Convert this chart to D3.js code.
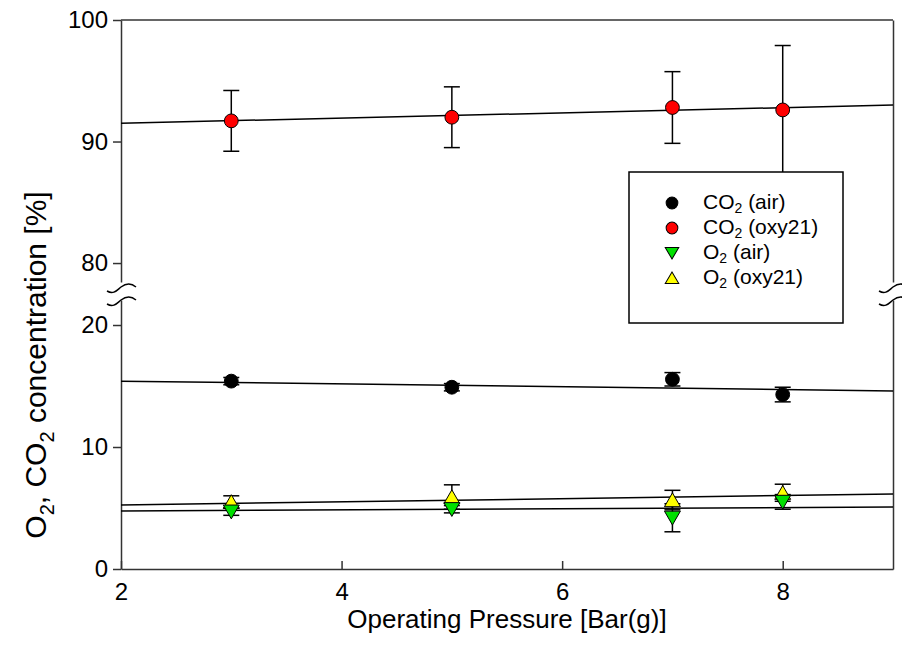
<!DOCTYPE html>
<html>
<head>
<meta charset="utf-8">
<script src="https://cdn.jsdelivr.net/npm/d3@7"></script>
<style>
  body { margin: 0; background: #fff; }
  text { font-family: Arial, "Liberation Sans", sans-serif; fill: #000; }
</style>
</head>
<body>
<div id="container"></div>
<script>
/* DATA */
const pressure = [3, 5, 7, 8];
const co2Air = [15.4, 14.9, 15.55, 14.3];
const co2AirErr = [0.3, 0.3, 0.55, 0.6];
const co2Oxy = [91.7, 92.0, 92.8, 92.6];
const co2OxyErr = [2.5, 2.5, 2.95, 5.3];
const o2Air = [4.7, 4.9, 4.2, 5.5];
const o2AirErr = [0.3, 0.3, 1.15, 0.6];
const o2Oxy = [5.5, 5.9, 5.65, 6.25];
const o2OxyErr = [0.5, 1.0, 0.8, 0.7];

// regression lines, value at pressure 2 and 9
const fitX = [2, 9];
const fitCo2Air = [15.4, 14.6];
const fitCo2Oxy = [91.5, 93.0];
const fitO2Air = [4.75, 5.08];
const fitO2Oxy = [5.25, 6.15];

const xTicks = [2, 4, 6, 8];
const yTicksLow = [0, 10, 20];
const yTicksHigh = [80, 90, 100];

/* CONSTANTS */
const width = 902, height = 663;
const left = 121, right = 893;

const x = d3.scaleLinear().domain([2, 9]).range([left, right]);
const yLow = d3.scaleLinear().domain([0, 22.05]).range([569, 300]);
const yHigh = d3.scaleLinear().domain([78.44, 100]).range([282, 20]);
const y = v => v > 50 ? yHigh(v) : yLow(v);

const svg = d3.select("#container").append("svg")
  .attr("width", width).attr("height", height);

/* FRAME & AXES */
svg.append("line").attr("x1", left).attr("x2", right)
  .attr("y1", 20).attr("y2", 20).attr("stroke", "#333").attr("stroke-width", 1.5);

const styleAxis = g => {
  g.select(".domain").attr("stroke", "#333").attr("stroke-width", 1.5);
  g.selectAll(".tick line").attr("stroke", "#333").attr("stroke-width", 1.5);
  g.selectAll("text").style("font-size", "24px").attr("fill", "#000");
};

svg.append("g").attr("transform", `translate(${left},0)`)
  .call(d3.axisLeft(yLow).tickValues(yTicksLow).tickSizeInner(8).tickSizeOuter(0).tickPadding(5))
  .call(styleAxis);
svg.append("g").attr("transform", `translate(${left},0)`)
  .call(d3.axisLeft(yHigh).tickValues(yTicksHigh).tickSizeInner(8).tickSizeOuter(0).tickPadding(5))
  .call(styleAxis);
svg.append("g").attr("transform", `translate(${right},0)`)
  .call(d3.axisRight(yLow).tickValues([]).tickSizeOuter(0))
  .call(styleAxis);
svg.append("g").attr("transform", `translate(${right},0)`)
  .call(d3.axisRight(yHigh).tickValues([]).tickSizeOuter(0))
  .call(styleAxis);
svg.append("g").attr("transform", `translate(0,569)`)
  .call(d3.axisBottom(x).tickValues(xTicks).tickFormat(d3.format("d"))
    .tickSizeInner(-8).tickSizeOuter(0).tickPadding(14))
  .call(styleAxis);

// break marks
const breakY = [288, 301];
[left, right].forEach(bx => {
  breakY.forEach(by => {
    svg.append("path")
      .attr("d", `M${bx - 14},${by + 3} C${bx - 7},${by + 7} ${bx - 4},${by + 2} ${bx},${by - 1} C${bx + 4},${by - 4} ${bx + 9},${by - 6} ${bx + 15},${by - 1}`)
      .attr("fill", "none").attr("stroke", "#000").attr("stroke-width", 1.5);
  });
});

/* FIT LINES */
const line = d3.line().x(d => x(d[0])).y(d => y(d[1]));
[fitCo2Oxy, fitCo2Air, fitO2Oxy, fitO2Air].forEach(f => {
  svg.append("path").attr("d", line(fitX.map((px, i) => [px, f[i]])))
    .attr("fill", "none").attr("stroke", "#000").attr("stroke-width", 1.5);
});

/* ERROR BARS */
const drawErr = (vals, errs) => {
  const g = svg.append("g").attr("stroke", "#000").attr("stroke-width", 1.5);
  pressure.forEach((p, i) => {
    const cx = x(p), y1 = y(vals[i] + errs[i]), y2 = y(vals[i] - errs[i]);
    g.append("line").attr("x1", cx).attr("x2", cx).attr("y1", y1).attr("y2", y2);
    g.append("line").attr("x1", cx - 8).attr("x2", cx + 8).attr("y1", y1).attr("y2", y1);
    g.append("line").attr("x1", cx - 8).attr("x2", cx + 8).attr("y1", y2).attr("y2", y2);
  });
};
drawErr(co2Oxy, co2OxyErr);
drawErr(co2Air, co2AirErr);
drawErr(o2Oxy, o2OxyErr);
drawErr(o2Air, o2AirErr);

/* MARKERS */
const sym = {
  circle: d3.symbol().type(d3.symbolCircle).size(150),
  down: d3.symbol().type(d3.symbolTriangle).size(110),
  up: d3.symbol().type(d3.symbolTriangle).size(110)
};
const series = [
  { label: "CO", sub: "2", rest: " (air)", vals: co2Air, shape: "circle", color: "#000000" },
  { label: "CO", sub: "2", rest: " (oxy21)", vals: co2Oxy, shape: "circle", color: "#ff0000" },
  { label: "O", sub: "2", rest: " (air)", vals: o2Air, shape: "down", color: "#00e000" },
  { label: "O", sub: "2", rest: " (oxy21)", vals: o2Oxy, shape: "up", color: "#ffff00" }
];
const markerAt = (g, s, cx, cy, k = 1) => {
  const rot = s.shape === "down" ? 180 : 0;
  const dy = s.shape === "down" ? -2 : s.shape === "up" ? 2 : 0;
  g.append("path").attr("d", sym[s.shape]())
    .attr("transform", `translate(${cx},${cy + dy * k}) rotate(${rot}) scale(${k})`)
    .attr("fill", s.color).attr("stroke", "#000").attr("stroke-width", 1 / k);
};
[series[1], series[0], series[3], series[2]].forEach(s => {
  const g = svg.append("g");
  pressure.forEach((p, i) => markerAt(g, s, x(p), y(s.vals[i])));
});

/* LEGEND */
const lg = svg.append("g");
lg.append("rect").attr("x", 629).attr("y", 172).attr("width", 214).attr("height", 151)
  .attr("fill", "#fff").attr("stroke", "#000").attr("stroke-width", 1.5);
series.forEach((s, i) => {
  const ly = 203 + i * 25;
  markerAt(lg, s, 672, ly, 0.85);
  const t = lg.append("text").attr("x", 703).attr("y", ly + 6).style("font-size", "21px");
  t.append("tspan").text(s.label);
  t.append("tspan").text(s.sub).attr("dy", 4).style("font-size", "14px");
  t.append("tspan").text(s.rest).attr("dy", -4);
});

/* TITLES */
svg.append("text").attr("x", 507).attr("y", 628).attr("text-anchor", "middle")
  .style("font-size", "26px").text("Operating Pressure [Bar(g)]");

const yt = svg.append("text").attr("transform", "translate(46,365) rotate(-90)")
  .attr("text-anchor", "middle").style("font-size", "30px");
yt.append("tspan").text("O");
yt.append("tspan").text("2").attr("dy", 8).style("font-size", "20px");
yt.append("tspan").text(", CO").attr("dy", -8);
yt.append("tspan").text("2").attr("dy", 8).style("font-size", "20px");
yt.append("tspan").text(" concentration [%]").attr("dy", -8);
</script>
</body>
</html>
